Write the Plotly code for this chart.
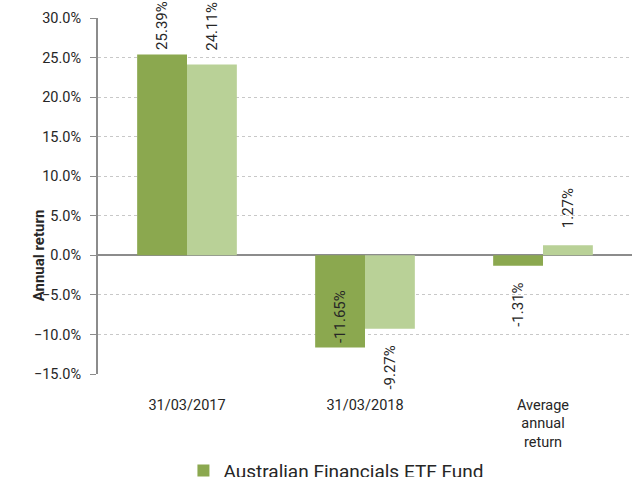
import plotly.graph_objects as go

categories = ["31/03/2017", "31/03/2018", "Average<br>annual<br>return"]
fund_returns = [0.2539, -0.1165, -0.0131]
index_returns = [0.2411, -0.0927, 0.0127]
series_names = ["Australian Financials ETF Fund", "Index"]
y_ticks = [-0.15, -0.10, -0.05, 0.0, 0.05, 0.10, 0.15, 0.20, 0.25, 0.30]
fund_label_inside = [False, True, False]
index_label_inside = [False, False, False]

dark = "#8BA84F"
light = "#B9D197"
font_family = "Roboto, Arial, sans-serif"
txt = "#262626"

W, H = 636, 477
M = dict(l=98, r=4, t=18, b=103)
Y_RANGE = [-0.15, 0.30]
BARGAP = 0.44
LBL_SIZE = 15
GAP = 15

plot_h = H - M["t"] - M["b"]
plot_w = W - M["l"] - M["r"]
ppu = plot_h / (Y_RANGE[1] - Y_RANGE[0])
cat_w = plot_w / len(categories)
bar_w = cat_w * (1 - BARGAP) / 2

CW = {"-": 0.30, ".": 0.27, "%": 0.78}


def est_len(s):
    return sum(CW.get(c, 0.56) for c in s) * LBL_SIZE


def label_annotations(values, side, inside_flags):
    anns = []
    for cat, v, inside in zip(categories, values, inside_flags):
        s = f"{v*100:.2f}%"
        L = est_len(s)
        if inside:
            yanchor = "bottom" if v < 0 else "top"
            yshift = 2 if v < 0 else -2
        elif v >= 0:
            space = M["t"] + (Y_RANGE[1] - v) * ppu
            yanchor = "bottom"
            yshift = min(GAP, space - L - 3)
        else:
            yanchor = "top"
            yshift = -GAP
        anns.append(dict(x=cat, y=v, xref="x", yref="y", text=s, showarrow=False,
                         textangle=-90, xanchor="center", yanchor=yanchor,
                         xshift=side * bar_w / 2, yshift=yshift,
                         font=dict(size=LBL_SIZE, color=txt, family=font_family)))
    return anns


fig = go.Figure()
fig.add_trace(go.Bar(x=categories, y=fund_returns, name=series_names[0],
                     marker=dict(color=dark, line=dict(width=0))))
fig.add_trace(go.Bar(x=categories, y=index_returns, name=series_names[1],
                     marker=dict(color=light, line=dict(width=0))))

annotations = label_annotations(fund_returns, -1, fund_label_inside) + \
    label_annotations(index_returns, 1, index_label_inside)
annotations.append(dict(text="<b>Annual return</b>", xref="paper", yref="y",
                        x=0, y=0, xanchor="left", xshift=-70, textangle=-90,
                        showarrow=False, font=dict(size=15, color=txt)))

fig.update_layout(
    width=W, height=H,
    margin=dict(**M, autoexpand=False),
    paper_bgcolor="white", plot_bgcolor="white",
    barmode="group", bargap=BARGAP, bargroupgap=0,
    font=dict(family=font_family, size=14, color=txt),
    showlegend=True,
    legend=dict(orientation="v", x=0.16, xanchor="left", y=-0.218, yanchor="top",
                font=dict(size=19, color=txt), itemsizing="constant",
                tracegroupgap=0, bgcolor="rgba(0,0,0,0)"),
    xaxis=dict(showgrid=False, showline=False, ticks="", tickfont=dict(size=14.5),
               tickangle=0, ticklabelstandoff=20),
    yaxis=dict(range=Y_RANGE, tickvals=y_ticks, tickformat=".1%",
               showgrid=True, gridcolor="#C8C8C8", griddash="dot", gridwidth=1,
               zeroline=True, zerolinecolor="#8C8C8C", zerolinewidth=2,
               showline=True, linecolor="#8C8C8C", linewidth=2,
               ticks="outside", ticklen=6, tickcolor="#8C8C8C",
               ticklabelstandoff=6, tickfont=dict(size=14.5)),
    annotations=annotations,
)

fig.write_html("out.html", config={"displayModeBar": False},
               post_script="document.body.style.margin='0';")
